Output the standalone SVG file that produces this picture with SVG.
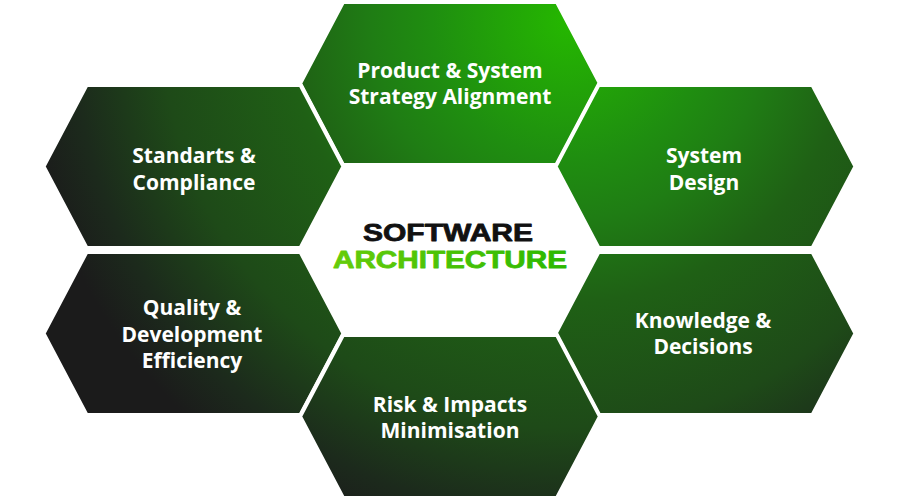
<svg xmlns="http://www.w3.org/2000/svg" width="900" height="501" viewBox="0 0 900 501">
<defs>
<radialGradient id="g" gradientUnits="userSpaceOnUse" cx="570" cy="20" r="600">
<stop offset="0" stop-color="#25b800"/>
<stop offset="0.23" stop-color="#1f8e10"/>
<stop offset="0.33" stop-color="#1f7d14"/>
<stop offset="0.47" stop-color="#1f6015"/>
<stop offset="0.68" stop-color="#1e4a18"/>
<stop offset="0.83" stop-color="#1c2a1c"/>
<stop offset="0.92" stop-color="#1b1b1b"/>
<stop offset="1" stop-color="#1b1b1b"/>
</radialGradient>
<linearGradient id="tg" x1="0" y1="0" x2="1" y2="0">
<stop offset="0" stop-color="#66cc0a"/>
<stop offset="1" stop-color="#2bb800"/>
</linearGradient>
</defs>
<style>
.h{fill:url(#g);stroke:#fff;stroke-width:4;stroke-linejoin:miter}
.t{font-family:"Open Sans","Liberation Sans",sans-serif;font-weight:700;font-size:21px;fill:#fff;text-anchor:middle}
.c{font-family:"Liberation Sans",Arial,sans-serif;font-weight:900;font-size:24px;text-anchor:middle;stroke-width:0.8;stroke-linejoin:round}
</style>
<rect width="900" height="501" fill="#fff"/>
<g id="connectors"/>
<g id="node-product">
<polygon class="h" points="343,2 557,2 600,83.5 557,165 343,165 300,83.5"/>
<text class="t" x="450" y="78">Product &amp; System</text>
<text class="t" x="450" y="104">Strategy Alignment</text>
</g>
<g id="node-standards">
<polygon class="h" points="86.5,85 300.5,85 343.5,166.5 300.5,248 86.5,248 43.5,166.5"/>
<text class="t" x="194" y="163">Standarts &amp;</text>
<text class="t" x="194" y="190">Compliance</text>
</g>
<g id="node-system">
<polygon class="h" points="598.5,85 812.5,85 855.5,166.5 812.5,248 598.5,248 555.5,166.5"/>
<text class="t" x="704" y="163">System</text>
<text class="t" x="704" y="190">Design</text>
</g>
<g id="node-quality">
<polygon class="h" points="86.5,252 300.5,252 343.5,333.5 300.5,415 86.5,415 43.5,333.5"/>
<text class="t" x="192" y="315">Quality &amp;</text>
<text class="t" x="192" y="342">Development</text>
<text class="t" x="192" y="368">Efficiency</text>
</g>
<g id="node-knowledge">
<polygon class="h" points="598.5,252 812.5,252 855.5,333.5 812.5,415 598.5,415 555.5,333.5"/>
<text class="t" x="703" y="328">Knowledge &amp;</text>
<text class="t" x="703" y="354">Decisions</text>
</g>
<g id="node-risk">
<polygon class="h" points="343,335 557,335 600,416.5 557,498 343,498 300,416.5"/>
<text class="t" x="450" y="412">Risk &amp; Impacts</text>
<text class="t" x="450" y="438">Minimisation</text>
</g>
<g id="node-center">
<text class="c" x="448" y="241" fill="#111" stroke="#111" textLength="170" lengthAdjust="spacingAndGlyphs">SOFTWARE</text>
<text class="c" x="450" y="268" fill="url(#tg)" stroke="url(#tg)" textLength="234" lengthAdjust="spacingAndGlyphs">ARCHITECTURE</text>
</g>
</svg>
